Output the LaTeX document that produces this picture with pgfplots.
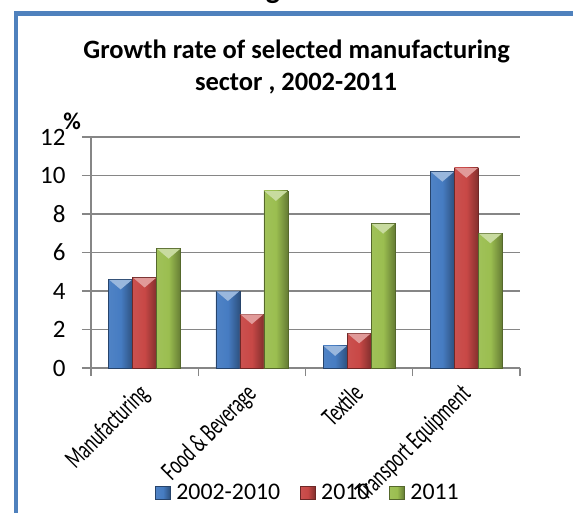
\documentclass[border=0pt]{standalone}
\usepackage{pgfplots}
\pgfplotsset{compat=1.18}
\usepackage{fontspec}
\setmainfont{Carlito}
\newfontfamily\condensed[FakeStretch=0.65]{Carlito}
\definecolor{xblue}{RGB}{70,124,194}
\definecolor{xred}{RGB}{200,72,70}
\definecolor{xgreen}{RGB}{155,190,80}
\definecolor{framec}{RGB}{79,129,189}
\definecolor{gridc}{RGB}{134,134,134}
\tikzset{
  sb/.style={draw=xblue!55!black, line width=0.5pt, left color=xblue!95!white, right color=xblue!65!black, middle color=xblue},
  sr/.style={draw=xred!55!black, line width=0.5pt, left color=xred!95!white, right color=xred!65!black, middle color=xred},
  sg/.style={draw=xgreen!55!black, line width=0.5pt, left color=xgreen!95!white, right color=xgreen!65!black, middle color=xgreen},
}
\pgfdeclareplotmark{bevel}{%
  \pgfpathmoveto{\pgfqpoint{-11.4pt}{-0.3pt}}%
  \pgfpathlineto{\pgfqpoint{11.4pt}{-0.3pt}}%
  \pgfpathlineto{\pgfqpoint{0pt}{-10pt}}%
  \pgfpathclose\pgfusepathqfill}
\begin{document}
\begin{tikzpicture}[x=1pt,y=1pt]
\useasboundingbox (0,0) rectangle (573,-513);
\begin{scope}
\clip (0,0) rectangle (573,-513);
\node[anchor=base, font=\fontsize{30}{34}\selectfont\bfseries, inner sep=0pt] at (273,1) {g};
\draw[framec, line width=4.5pt] (16.2,-530) -- (16.2,-13.3) -- (590,-13.3);
\end{scope}
\node[anchor=base, inner sep=0pt, font=\fontsize{26.5}{32}\selectfont\bfseries] at (296.7,-58.3) {Growth rate of selected manufacturing};
\node[anchor=base, inner sep=0pt, font=\fontsize{26.5}{32}\selectfont\bfseries] at (296,-90.7) {sector , 2002-2011};
\node[font=\fontsize{24}{28}\selectfont\bfseries, inner sep=0pt] at (72,-121) {\%};
\begin{axis}[
  at={(91pt,-368pt)}, anchor=south west,
  scale only axis, width=429pt, height=231pt,
  xmin=-0.5, xmax=3.5, ymin=0, ymax=12,
  axis lines*=left,
  axis line style={gridc, line width=1.1pt},
  ytick={0,2,...,12},
  ymajorgrids, grid style={gridc, line width=1.1pt},
  tick align=outside, major tick length=9pt, minor tick length=8pt,
  ytick style={gridc, line width=1.1pt},
  /pgf/number format/assume math mode=true,
  yticklabel style={font=\fontsize{25}{28}\selectfont, xshift=-13pt},
  xtick={-0.07,0.93,1.93,2.93},
  xticklabels={Manufacturing, Food \& Beverage, Textile, Transport Equipment},
  major x tick style={draw=none},
  minor xtick={-0.5,0.5,1.5,2.5,3.5},
  minor x tick style={gridc, line width=1.1pt},
  xticklabel style={yshift=-5pt, rotate=45, anchor=north east, inner sep=0pt, font=\condensed\fontsize{27}{29}\selectfont},
  ybar=0pt, bar width=24pt,
  legend style={draw=none, fill=none, at={(rel axis cs:0.506,-0.537)}, anchor=center,
    legend columns=-1, font=\fontsize{23.8}{27}\selectfont,
    /tikz/every even column/.append style={column sep=18pt},
    /tikz/every odd column/.append style={column sep=4pt}},
  legend image code/.code={\draw[#1] (0pt,-7pt) rectangle (14.5pt,6pt);},
]
% 2002-2010
\addplot[sb, bar shift=-24pt, forget plot] coordinates {(0,4.6)};
\addplot[sb, bar shift=-24pt, forget plot] coordinates {(1,4.0)};
\addplot[sb, bar shift=-24pt, forget plot] coordinates {(2,1.15)};
\addplot[sb, bar shift=-24pt, forget plot] coordinates {(3,10.2)};
% 2010
\addplot[sr, bar shift=0pt, forget plot] coordinates {(0,4.7)};
\addplot[sr, bar shift=0pt, forget plot] coordinates {(1,2.8)};
\addplot[sr, bar shift=0pt, forget plot] coordinates {(2,1.8)};
\addplot[sr, bar shift=0pt, forget plot] coordinates {(3,10.4)};
% 2011
\addplot[sg, bar shift=24pt, forget plot] coordinates {(0,6.2)};
\addplot[sg, bar shift=24pt, forget plot] coordinates {(1,9.2)};
\addplot[sg, bar shift=24pt, forget plot] coordinates {(2,7.5)};
\addplot[sg, bar shift=24pt, forget plot] coordinates {(3,7.0)};
% bevel highlights at bar tops
\addplot[sharp plot, draw=none, only marks, mark=bevel, color=xblue!55!white, mark options={xshift=-24pt}, forget plot]
  coordinates {(0,4.6) (1,4.0) (2,1.15) (3,10.2)};
\addplot[sharp plot, draw=none, only marks, mark=bevel, color=xred!55!white, mark options={xshift=0pt}, forget plot]
  coordinates {(0,4.7) (1,2.8) (2,1.8) (3,10.4)};
\addplot[sharp plot, draw=none, only marks, mark=bevel, color=xgreen!55!white, mark options={xshift=24pt}, forget plot]
  coordinates {(0,6.2) (1,9.2) (2,7.5) (3,7.0)};
\addlegendimage{sb}\addlegendentry{2002-2010}
\addlegendimage{sr}\addlegendentry{2010}
\addlegendimage{sg}\addlegendentry{2011}
\end{axis}
\end{tikzpicture}
\end{document}
